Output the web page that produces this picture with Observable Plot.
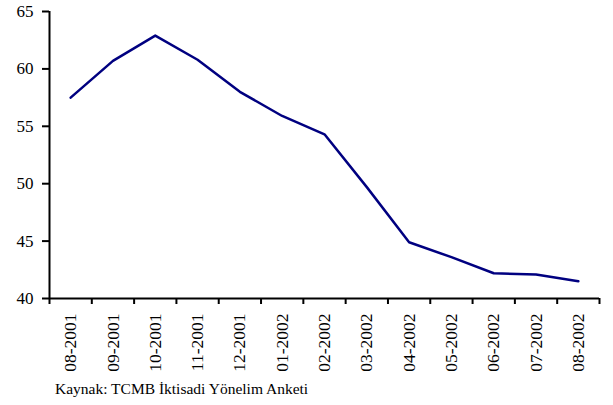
<!DOCTYPE html>
<html>
<head>
<meta charset="utf-8">
<script src="https://cdn.jsdelivr.net/npm/d3@7"></script>
<script src="https://cdn.jsdelivr.net/npm/@observablehq/plot@0.6"></script>
<style>
  body { margin: 0; background: #fff; }
  #chart { width: 613px; }
  .caption { font-family: "Liberation Serif", "Times New Roman", serif; font-size: 15.5px; line-height: 18px; color: #000; margin: 0 0 0 55px; }
</style>
</head>
<body>
<div id="chart"></div>
<script>
const months = ["08-2001","09-2001","10-2001","11-2001","12-2001","01-2002","02-2002","03-2002","04-2002","05-2002","06-2002","07-2002","08-2002"];
const values = [57.5, 60.7, 62.9, 60.8, 58.0, 55.9, 54.3, 49.7, 44.9, 43.6, 42.2, 42.1, 41.5];
const yTicks = [40, 45, 50, 55, 60, 65];

const data = months.map((m, i) => ({i: i + 0.5, v: values[i], m}));
const boundaries = d3.range(0, months.length + 1);
const centers = months.map((m, i) => i + 0.5);

const plot = Plot.plot({
  width: 613,
  height: 380,
  marginLeft: 49,
  marginRight: 14,
  marginTop: 11,
  marginBottom: 82,
  style: {fontFamily: "'Liberation Serif', 'Times New Roman', serif", fontSize: "17px", color: "#000", background: "#fff"},
  x: {domain: [0, months.length], axis: null},
  y: {domain: [40, 65], axis: null},
  marks: [
    Plot.axisY({ticks: yTicks, tickSize: 7, tickPadding: 9, label: null, strokeWidth: 2, fontSize: 17}),
    Plot.axisX({ticks: boundaries, tickSize: 6, tickFormat: () => "", label: null, strokeWidth: 2}),
    Plot.axisX({ticks: centers, tickSize: 0, tickPadding: 15, tickRotate: -90, tickFormat: d => months[Math.floor(d)], label: null, fontSize: 17.5}),
    Plot.ruleX([0], {stroke: "#000", strokeWidth: 2}),
    Plot.ruleY([40], {stroke: "#000", strokeWidth: 2}),
    Plot.line(data, {x: "i", y: "v", stroke: "#000080", strokeWidth: 2.5})
  ]
});
document.getElementById("chart").appendChild(plot);
const cap = document.createElement("div");
cap.className = "caption";
cap.textContent = "Kaynak: TCMB İktisadi Yönelim Anketi";
document.getElementById("chart").appendChild(cap);
</script>
</body>
</html>
